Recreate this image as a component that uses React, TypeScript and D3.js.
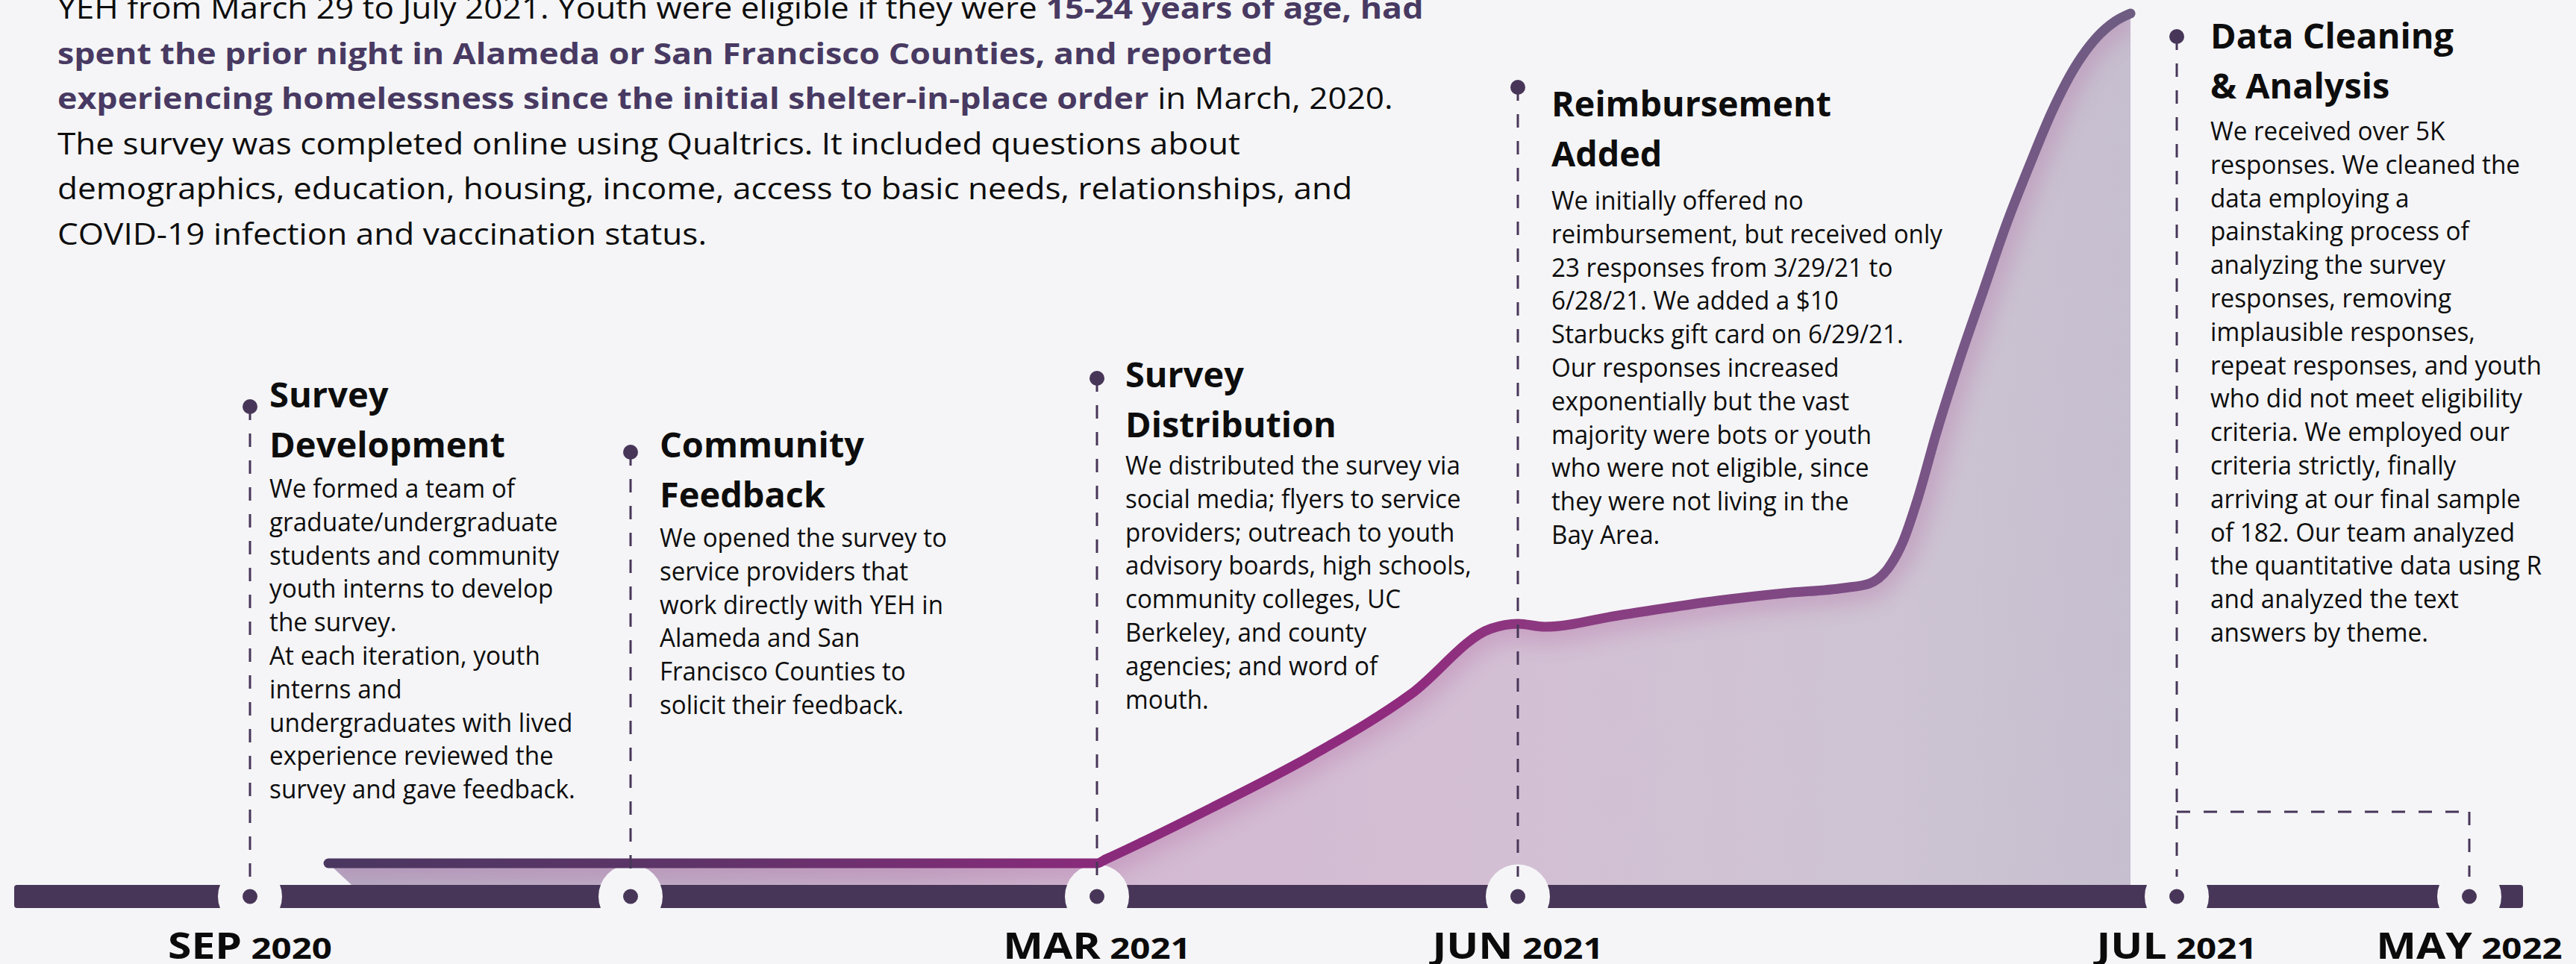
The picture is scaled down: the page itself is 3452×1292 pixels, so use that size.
import React, { useEffect } from 'react';
import * as d3 from 'd3';

// ---------------- data ----------------
const MILESTONE_INDEX = [0, 1, 2, 3, 4, 5];
const MILESTONE_MONTH = ['SEP', '', 'MAR', 'JUN', 'JUL', 'MAY'];
const MILESTONE_YEAR = ['2020', '', '2021', '2021', '2021', '2022'];

// response curve: timeline position (in milestone units) and relative response volume (0-100)
const CURVE_T = [0.206, 2.0, 2.0213, 2.2713, 2.5089, 2.7465, 2.9362, 3.0, 3.0408, 3.1518, 3.3035, 3.4043, 3.4949, 3.5334, 3.5617, 3.5844, 3.607, 3.6353, 3.6693, 3.7055, 3.7429, 3.7769, 3.8109, 3.8448, 3.8788, 3.9071, 3.9298];
const CURVE_V = [0, 0, 0.48, 6.5, 12.64, 19.93, 27.61, 28.18, 27.83, 29.15, 30.9, 31.78, 32.4, 32.92, 34.68, 37.84, 42.93, 50.66, 59.0, 67.16, 75.5, 82.2, 88.5, 93.6, 97.2, 99.1, 100];

const EVENT_MILESTONE = [0, 1, 2, 3, 4];
const EVENT_TITLES = [
  ['Survey', 'Development'],
  ['Community', 'Feedback'],
  ['Survey', 'Distribution'],
  ['Reimbursement', 'Added'],
  ['Data Cleaning', '& Analysis'],
];
const EVENT_BODIES = [
  ['We formed a team of', 'graduate/undergraduate', 'students and community', 'youth interns to develop', 'the survey.', 'At each iteration, youth', 'interns and', 'undergraduates with lived', 'experience reviewed the', 'survey and gave feedback.'],
  ['We opened the survey to', 'service providers that', 'work directly with YEH in', 'Alameda and San', 'Francisco Counties to', 'solicit their feedback.'],
  ['We distributed the survey via', 'social media; flyers to service', 'providers; outreach to youth', 'advisory boards, high schools,', 'community colleges, UC', 'Berkeley, and county', 'agencies; and word of', 'mouth.'],
  ['We initially offered no', 'reimbursement, but received only', '23 responses from 3/29/21 to', '6/28/21. We added a $10', 'Starbucks gift card on 6/29/21.', 'Our responses increased', 'exponentially but the vast', 'majority were bots or youth', 'who were not eligible, since', 'they were not living in the', 'Bay Area.'],
  ['We received over 5K', 'responses. We cleaned the', 'data employing a', 'painstaking process of', 'analyzing the survey', 'responses, removing', 'implausible responses,', 'repeat responses, and youth', 'who did not meet eligibility', 'criteria. We employed our', 'criteria strictly, finally', 'arriving at our final sample', 'of 182. Our team analyzed', 'the quantitative data using R', 'and analyzed the text', 'answers by theme.'],
];

// intro paragraph: [text, bold?]
const INTRO_LINES: [string, boolean][][] = [
  [['YEH from March 29 to July 2021. Youth were eligible if they were ', false], ['15-24 years of age, had', true]],
  [['spent the prior night in Alameda or San Francisco Counties, and reported', true]],
  [['experiencing homelessness since the initial shelter-in-place order', true], [' in March, 2020.', false]],
  [['The survey was completed online using Qualtrics. It included questions about', false]],
  [['demographics, education, housing, income, access to basic needs, relationships, and', false]],
  [['COVID-19 infection and vaccination status.', false]],
];

// ---------------- layout ----------------
const W = 3452;
const H = 1292;
const BG = '#f5f5f7';
const DARK = '#483659';
const FONT = '"Open Sans", "Noto Sans", sans-serif';
const AXIS_PX = [335, 845, 1470, 2034, 2917, 3309];
const BAR_X0 = 19;
const BAR_X1 = 3381;
const BAR_Y = 1186;
const BAR_H = 31;
const BAR_CY = BAR_Y + BAR_H / 2;
const Y_FLAT = 1157;
const Y_PEAK = 18;
const DASH_END = 1175;
const BRACKET_Y = 1088;
const LABEL_Y = 1285;
const MONTH_SIZE = 48;
const YEAR_SIZE = 40;
const TITLE_SIZE = 46;
const TITLE_LH = 67;
const BODY_SIZE = 34;
const BODY_LH = 44.8;
const INTRO_X = 77;
const INTRO_Y = 25;
const INTRO_LH = 60.5;
const INTRO_SIZE = 40;
const EVENT_LAYOUT = [
  { dotY: 545, textX: 361, titleY: 546, bodyY: 667, titleW: 316, titleRef: 1, bodyW: 410, bodyRef: 9 },
  { dotY: 606, textX: 884, titleY: 613, bodyY: 733, titleW: 274, titleRef: 0, bodyW: 385, bodyRef: 0 },
  { dotY: 507, textX: 1508, titleY: 519, bodyY: 636, titleW: 283, titleRef: 1, bodyW: 464, bodyRef: 3 },
  { dotY: 117, textX: 2079, titleY: 156, bodyY: 281, titleW: 375, titleRef: 0, bodyW: 524, bodyRef: 1 },
  { dotY: 49, textX: 2962, titleY: 65, bodyY: 188, titleW: 326, titleRef: 0, bodyW: 444, bodyRef: 13 },
];

let measureCtx: CanvasRenderingContext2D | null = null;
function textWidth(s: string, font: string) {
  if (!measureCtx && typeof document !== 'undefined') {
    measureCtx = document.createElement('canvas').getContext('2d');
  }
  if (!measureCtx) return 0;
  measureCtx.font = font;
  return measureCtx.measureText(s).width;
}
function fit(s: string, font: string, target: number) {
  const w = textWidth(s, font);
  return w > 0 ? target / w : 1;
}
const fontStr = (weight: number, size: number) => `${weight} ${size}px "Open Sans"`;

function IntroParagraph() {
  const sReg = fit(INTRO_LINES[3][0][0], fontStr(400, INTRO_SIZE), 1585);
  const sBold = fit(INTRO_LINES[1][0][0], fontStr(700, INTRO_SIZE), 1629);
  return (
    <g>
      {INTRO_LINES.map((parts, j) => {
        let cursor = INTRO_X;
        const y = INTRO_Y + j * INTRO_LH;
        return (
          <g key={j}>
            {parts.map(([t, b], k) => {
              const s = b ? sBold : sReg;
              const x0 = cursor;
              cursor += textWidth(t, fontStr(b ? 700 : 400, INTRO_SIZE)) * s;
              return (
                <text key={k} transform={`translate(${x0},${y}) scale(${s},1)`} fontSize={INTRO_SIZE}
                  fontWeight={b ? 700 : 400} fill={b ? '#483a62' : '#0d0d0d'} style={{ whiteSpace: 'pre' }}>
                  {t}
                </text>
              );
            })}
          </g>
        );
      })}
    </g>
  );
}

export default function App() {
  useEffect(() => {
    document.body.style.margin = '0';
    document.body.style.background = BG;
  }, []);

  const x = d3.scaleLinear().domain(MILESTONE_INDEX).range(AXIS_PX);
  const y = d3.scaleLinear().domain([0, 100]).range([Y_FLAT, Y_PEAK]);
  const pts: [number, number][] = CURVE_T.map((t, i) => [t, CURVE_V[i]]);

  const lineGen = d3.line<[number, number]>()
    .x(d => x(d[0]))
    .y(d => y(d[1]))
    .curve(d3.curveMonotoneX);
  const areaGen = d3.area<[number, number]>()
    .x1(d => x(d[0]))
    .x0((d, i) => (i === 0 ? x(d[0]) + 31 : x(d[0])))
    .y1(d => y(d[1]))
    .y0(BAR_Y)
    .curve(d3.curveMonotoneX);
  const linePath = lineGen(pts) || '';
  const areaPath = areaGen(pts) || '';
  const gx0 = x(CURVE_T[0]);
  const gx1 = x(CURVE_T[CURVE_T.length - 1]);

  const labelW = textWidth('SEP', fontStr(700, MONTH_SIZE)) + textWidth(' 2020', fontStr(700, YEAR_SIZE));
  const labelScale = labelW > 0 ? 220 / labelW : 1;

  return (
    <svg width={W} height={H} viewBox={`0 0 ${W} ${H}`}
      style={{ position: 'absolute', left: 0, top: 0, display: 'block', background: BG }}
      fontFamily={FONT}>
      <defs>
        <linearGradient id="fillGrad" gradientUnits="userSpaceOnUse" x1={gx0} y1={0} x2={gx1} y2={0}>
          <stop offset="0" stopColor="#b6afc5" />
          <stop offset="0.32" stopColor="#c6b1c9" />
          <stop offset="0.45" stopColor="#d3bad2" />
          <stop offset="0.65" stopColor="#d3bfd4" />
          <stop offset="0.86" stopColor="#cec4d3" />
          <stop offset="1" stopColor="#c6bfcf" />
        </linearGradient>
        <linearGradient id="lineGrad" gradientUnits="userSpaceOnUse" x1={gx0} y1={0} x2={gx1} y2={0}>
          <stop offset="0" stopColor="#4a3760" />
          <stop offset="0.2" stopColor="#5e3468" />
          <stop offset="0.43" stopColor="#8a2a7b" />
          <stop offset="0.6" stopColor="#902b7e" />
          <stop offset="0.68" stopColor="#8c3a80" />
          <stop offset="0.83" stopColor="#7d4b84" />
          <stop offset="0.9" stopColor="#775786" />
          <stop offset="1" stopColor="#6e5c82" />
        </linearGradient>
        <clipPath id="areaClip">
          <path d={areaPath} />
        </clipPath>
        <filter id="glow" filterUnits="userSpaceOnUse" x={0} y={0} width={W} height={H}>
          <feGaussianBlur stdDeviation="14" />
        </filter>
      </defs>

      <rect x={0} y={0} width={W} height={H} fill={BG} />

      {/* area */}
      <path d={areaPath} fill="url(#fillGrad)" />
      <g clipPath="url(#areaClip)">
        <path d={linePath} fill="none" stroke="#b0619f" strokeWidth={44} opacity={0.3} filter="url(#glow)" />
      </g>

      {/* timeline bar */}
      <rect x={BAR_X0} y={BAR_Y} width={BAR_X1 - BAR_X0} height={BAR_H} rx={4} fill={DARK} />
      {MILESTONE_INDEX.map(m => (
        <circle key={'gap' + m} cx={x(m)} cy={BAR_CY} r={43} fill={BG} />
      ))}

      {/* response line */}
      <path d={linePath} fill="none" stroke="url(#lineGrad)" strokeWidth={13} strokeLinecap="round" strokeLinejoin="round" />

      {/* dashed leaders */}
      {EVENT_MILESTONE.map((m, i) => (
        <line key={'lead' + i} x1={x(m)} x2={x(m)} y1={EVENT_LAYOUT[i].dotY} y2={DASH_END}
          stroke={DARK} strokeWidth={3} strokeDasharray="18 18" />
      ))}
      <line x1={x(4)} x2={x(5)} y1={BRACKET_Y} y2={BRACKET_Y} stroke={DARK} strokeWidth={3} strokeDasharray="18 18" />
      <line x1={x(5)} x2={x(5)} y1={BRACKET_Y} y2={DASH_END} stroke={DARK} strokeWidth={3} strokeDasharray="18 18" />

      {EVENT_MILESTONE.map((m, i) => (
        <circle key={'top' + i} cx={x(m)} cy={EVENT_LAYOUT[i].dotY} r={10} fill={DARK} />
      ))}
      {MILESTONE_INDEX.map(m => (
        <circle key={'dot' + m} cx={x(m)} cy={BAR_CY} r={10} fill={DARK} />
      ))}

      {/* axis labels */}
      {MILESTONE_INDEX.filter(m => MILESTONE_MONTH[m]).map(m => (
        <text key={'lab' + m} transform={`translate(${x(m)},${LABEL_Y}) scale(${labelScale},1)`} textAnchor="middle"
          fill="#0b0b0b" fontWeight={700} style={{ whiteSpace: 'pre' }}>
          <tspan fontSize={MONTH_SIZE}>{MILESTONE_MONTH[m]}</tspan>
          <tspan fontSize={YEAR_SIZE}>{' ' + MILESTONE_YEAR[m]}</tspan>
        </text>
      ))}

      {/* event texts */}
      {EVENT_TITLES.map((title, i) => {
        const L = EVENT_LAYOUT[i];
        const ts = fit(title[L.titleRef], fontStr(700, TITLE_SIZE), L.titleW);
        const bs = fit(EVENT_BODIES[i][L.bodyRef], fontStr(400, BODY_SIZE), L.bodyW);
        return (
          <g key={'ev' + i}>
            <g transform={`translate(${L.textX},0) scale(${ts},1)`}>
              {title.map((t, j) => (
                <text key={j} x={0} y={L.titleY + j * TITLE_LH} fontSize={TITLE_SIZE} fontWeight={700} fill="#0d0d0d">{t}</text>
              ))}
            </g>
            <g transform={`translate(${L.textX},0) scale(${bs},1)`}>
              {EVENT_BODIES[i].map((t, j) => (
                <text key={j} x={0} y={L.bodyY + j * BODY_LH} fontSize={BODY_SIZE} fill="#0d0d0d">{t}</text>
              ))}
            </g>
          </g>
        );
      })}

      <IntroParagraph />
    </svg>
  );
}
